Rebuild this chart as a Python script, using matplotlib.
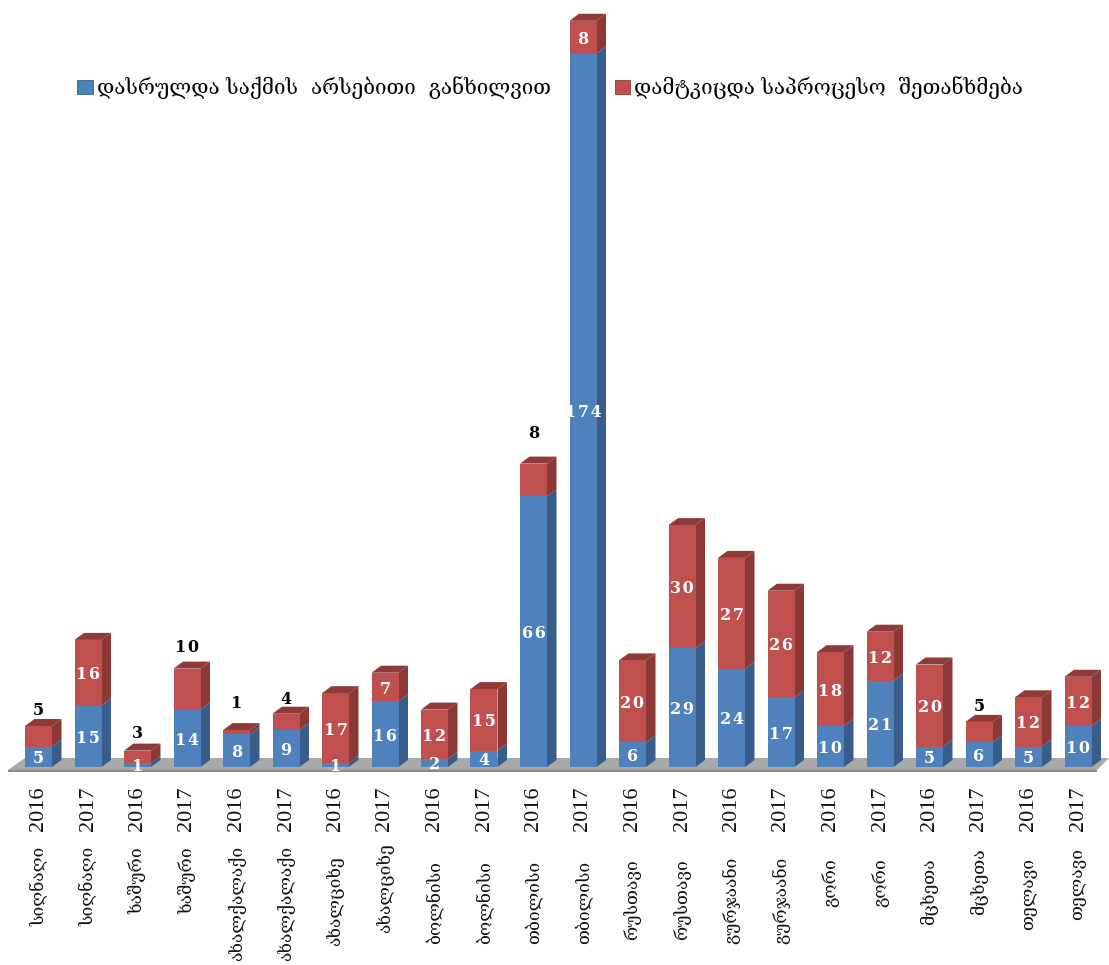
"""Stacked pseudo-3D bars of case outcomes per court, 2016 and 2017."""

import matplotlib

matplotlib.use("Agg")
import matplotlib.pyplot as plt
from matplotlib.patches import Patch
from matplotlib.transforms import offset_copy

TOWNS = ["სიღნაღი", "სიღნაღი", "ხაშური", "ხაშური", "ახალქალაქი", "ახალქალაქი",
         "ახალციხე", "ახალციხე", "ბოლნისი", "ბოლნისი", "თბილისი", "თბილისი",
         "რუსთავი", "რუსთავი", "გურჯაანი", "გურჯაანი", "გორი", "გორი",
         "მცხეთა", "მცხეთა", "თელავი", "თელავი"]
YEARS = ["2016", "2017"] * 11
MERITS = [5, 15, 1, 14, 8, 9, 1, 16, 2, 4, 66, 174, 6, 29, 24, 17, 10, 21, 5, 6, 5, 10]
PLEA = [5, 16, 3, 10, 1, 4, 17, 7, 12, 15, 8, 8, 20, 30, 27, 26, 18, 12, 20, 5, 12, 12]
LABEL_MERITS = "დასრულდა საქმის  არსებითი  განხილვით"
LABEL_PLEA = "დამტკიცდა საპროცესო  შეთანხმება"

BLUE = ("#4f81bd", "#385d8a", "#3f6797")
RED = ("#c0504d", "#8c3836", "#8f3a38")
FLOOR = "#a9a9a9"
SERIF = ["Liberation Serif", "DejaVu Serif"]

WIDTH_PX, HEIGHT_PX = 1109, 965
BASE_Y = 767
PX_X = 49.5
PX_Y = 4.10
BAR = 27 / PX_X
DX = 9.5 / PX_X
DY = 7 / PX_Y

# plea counts written above the bar in black, with their lift in pixels
ABOVE = {0: 0, 2: 2, 3: 6, 4: 11, 5: -1, 10: 15, 19: 0}
# where each rotated town name starts, pixels below the baseline
NAME_DROP = [80, 80, 80, 80, 79, 79, 89, 76, 94, 94, 94, 94,
             92, 92, 90, 90, 91, 91, 91, 81, 91, 81]


def spaced(value):
    return "\u200a".join(str(value))


def draw_block(ax, x, bottom, height, colors, top_face):
    left, right = x - BAR / 2, x + BAR / 2
    top = bottom + height
    ax.bar(x, height, BAR, bottom=bottom, color=colors[0], linewidth=0, zorder=3)
    ax.fill([right, right + DX, right + DX, right],
            [bottom, bottom + DY, top + DY, top], color=colors[1], lw=0, zorder=2)
    if top_face:
        ax.fill([left, left + DX, right + DX, right],
                [top, top + DY, top + DY, top], color=colors[2], lw=0, zorder=2)


fig = plt.figure(figsize=(WIDTH_PX / 100, HEIGHT_PX / 100), dpi=100)
ax = fig.add_axes([0, (HEIGHT_PX - BASE_Y) / HEIGHT_PX, 1, BASE_Y / HEIGHT_PX])
ax.set_xlim(-38.5 / PX_X, (WIDTH_PX - 38.5) / PX_X)
ax.set_ylim(0, BASE_Y / PX_Y)
for spine in ax.spines.values():
    spine.set_visible(False)
ax.yaxis.set_visible(False)

xs = list(range(len(TOWNS)))

# grey floor with its darker front lip
x0, x1 = ax.get_xlim()
floor_left = x0 + 8 / PX_X
floor_right = x1 - 12 / PX_X
ax.fill([floor_left, floor_left + 17 / PX_X, x1, floor_right],
        [-3 / PX_Y, 9 / PX_Y, 9 / PX_Y, -3 / PX_Y], color=FLOOR, lw=0, zorder=1, clip_on=False)
ax.fill([floor_left, floor_right, floor_right, floor_left],
        [-3 / PX_Y, -3 / PX_Y, -5 / PX_Y, -5 / PX_Y], color="#8a8a8a", lw=0, zorder=1, clip_on=False)

for x, merit, plea in zip(xs, MERITS, PLEA):
    draw_block(ax, x, 0, merit, BLUE, False)
    draw_block(ax, x, merit, plea, RED, True)

below = offset_copy(ax.transData, fig=fig, y=-2, units="dots")
for x, merit, plea in zip(xs, MERITS, PLEA):
    ax.text(x, merit / 2, spaced(merit), transform=below, color="white", fontsize=11.5,
            fontweight="bold", family="DejaVu Serif", ha="center", va="center",
            zorder=5, clip_on=False)
    total = merit + plea
    if x in ABOVE:
        top_px = offset_copy(ax.transData, fig=fig, y=ABOVE[x], units="dots")
        ax.text(x, total + DY, spaced(plea), transform=top_px, color="black", fontsize=11.5,
                fontweight="bold", family="DejaVu Serif", ha="center", va="bottom", zorder=5)
    else:
        ax.text(x, merit + plea / 2, spaced(plea), transform=below, color="white", fontsize=11.5,
                fontweight="bold", family="DejaVu Serif", ha="center", va="center", zorder=5)

ax.set_xticks(xs)
ax.set_xticklabels(YEARS, rotation=90, family=SERIF, fontsize=16, color="#111111")
ax.tick_params(axis="x", length=0, pad=14)

for x, town, drop in zip(xs, TOWNS, NAME_DROP):
    ax.annotate(town, xy=(x, 0), xycoords=ax.get_xaxis_transform(), xytext=(0, -drop),
                textcoords="offset pixels", rotation=90, ha="center", va="top",
                family="DejaVu Serif", fontsize=12.5, color="#111111")

handles = [Patch(facecolor=BLUE[0], edgecolor=BLUE[1], linewidth=0.6),
           Patch(facecolor=RED[0], edgecolor=RED[1], linewidth=0.6)]
ax.legend(handles, [LABEL_MERITS, LABEL_PLEA], ncol=2, frameon=False,
          prop={"family": "DejaVu Serif", "size": 14.9},
          bbox_to_anchor=(77 / WIDTH_PX, (BASE_Y - 88) / BASE_Y), loc="center left",
          borderaxespad=0, borderpad=0, handlelength=0.75, handleheight=0.7,
          handletextpad=0.2, columnspacing=3.1)

fig.savefig("out.png", dpi=100)
plt.close(fig)
